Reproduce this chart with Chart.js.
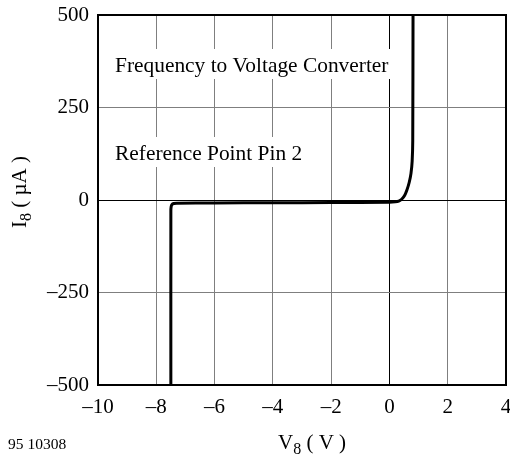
<!DOCTYPE html>
<html>
<head>
<meta charset="utf-8">
<script src="https://cdn.jsdelivr.net/npm/chart.js@4.4.0/dist/chart.umd.min.js"></script>
<style>
  html, body { margin: 0; padding: 0; background: #fff; }
  #wrap { width: 510px; height: 460px; position: relative; }
</style>
</head>
<body>
<div id="wrap"><canvas id="myChart"></canvas></div>
<script>
// data
const voltsV8 = [-7.5, -7.5, -7.49, -7.46, -7.4, -7.3, -6, -4, -2, 0, 0.2, 0.32, 0.42, 0.52, 0.6, 0.68, 0.74, 0.78, 0.8, 0.81];
const currentI8 = [-500, -30, -18, -12, -9.5, -8.5, -8, -7.5, -7, -6, -5, -3, 2, 12, 27, 48, 72, 105, 160, 500];
const xTicks = [-10, -8, -6, -4, -2, 0, 2, 4];
const yTicks = [-500, -250, 0, 250, 500];
const notes = ['Frequency to Voltage Converter', 'Reference Point Pin 2'];
const figureId = '95 10308';

const serif = '"Liberation Serif", "Times New Roman", serif';

const points = voltsV8.map((v, i) => ({x: v, y: currentI8[i]}));

const dash = (v) => v < 0 ? '\u2013' + Math.abs(v) : String(v);

// draws "main" then a lowered subscript, then the rest
function subText(ctx, x, y, main, sub, rest) {
  ctx.font = '21px ' + serif;
  ctx.fillText(main, x, y);
  x += ctx.measureText(main).width;
  ctx.font = '16px ' + serif;
  ctx.fillText(sub, x, y + 5);
  x += ctx.measureText(sub).width;
  ctx.font = '21px ' + serif;
  ctx.fillText(rest, x, y);
}

const extras = {
  id: 'extras',
  beforeDatasetsDraw(chart) {
    const ctx = chart.ctx;
    ctx.save();
    ctx.fillStyle = '#fff';
    ctx.fillRect(112, 49, 281, 30);
    ctx.fillRect(112, 137, 192, 30);
    ctx.fillStyle = '#000';
    ctx.font = '21.4px ' + serif;
    ctx.textBaseline = 'alphabetic';
    ctx.fillText(notes[0], 115, 72);
    ctx.fillText(notes[1], 115, 160);
    ctx.restore();
  },
  afterDraw(chart) {
    const ctx = chart.ctx;
    const a = chart.chartArea;
    ctx.save();
    ctx.strokeStyle = '#000';
    ctx.lineWidth = 2;
    ctx.strokeRect(a.left, a.top, a.right - a.left, a.bottom - a.top);
    ctx.fillStyle = '#000';
    ctx.textBaseline = 'alphabetic';
    subText(ctx, 278, 449, 'V', '8', ' ( V )');
    ctx.font = '15.5px ' + serif;
    ctx.fillText(figureId, 8, 449);
    ctx.translate(26, 228);
    ctx.rotate(-Math.PI / 2);
    subText(ctx, 0, 0, 'I', '8', ' ( \u00b5A )');
    ctx.restore();
  }
};

const gridColor = (c) => c.tick && c.tick.value === 0 ? '#000' : '#7f7f7f';

const config = {
  type: 'scatter',
  data: {
    datasets: [{
      data: points,
      showLine: true,
      borderColor: '#000',
      borderWidth: 3,
      pointRadius: 0,
      tension: 0.2,
      fill: false
    }]
  },
  options: {
    responsive: true,
    maintainAspectRatio: false,
    devicePixelRatio: 1,
    animation: false,
    layout: { padding: { top: 15, right: 4, left: 0, bottom: 0 } },
    plugins: { legend: { display: false }, tooltip: { enabled: false } },
    scales: {
      x: {
        type: 'linear',
        min: -10, max: 4,
        afterBuildTicks: (s) => { s.ticks = xTicks.map(v => ({value: v})); },
        afterFit: (s) => { s.height = 75; s.paddingLeft = 0; s.paddingRight = 0; },
        grid: { color: gridColor, lineWidth: 1, drawTicks: false },
        border: { display: false },
        ticks: {
          padding: 10,
          color: '#000',
          font: { family: serif, size: 21 },
          maxRotation: 0,
          callback: dash
        }
      },
      y: {
        type: 'linear',
        min: -500, max: 500,
        afterBuildTicks: (s) => { s.ticks = yTicks.map(v => ({value: v})); },
        afterFit: (s) => { s.width = 98; s.paddingTop = 0; s.paddingBottom = 0; },
        grid: { color: gridColor, lineWidth: 1, drawTicks: false },
        border: { display: false },
        ticks: {
          padding: 9,
          color: '#000',
          font: { family: serif, size: 21 },
          callback: dash
        }
      }
    }
  },
  plugins: [extras]
};

const myChart = new Chart(document.getElementById('myChart'), config);
</script>
</body>
</html>
